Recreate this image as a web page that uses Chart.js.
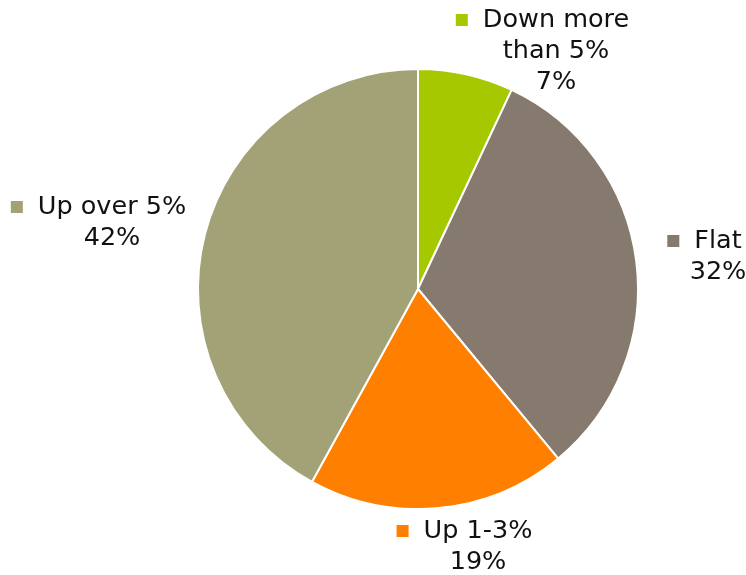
<!DOCTYPE html>
<html>
<head>
<meta charset="utf-8">
<script src="https://cdn.jsdelivr.net/npm/chart.js@4/dist/chart.umd.min.js"></script>
<style>
	html, body { margin: 0; padding: 0; background: #fff; }
	#wrap { width: 746px; height: 575px; }
</style>
</head>
<body>
<div id="wrap"><canvas id="chartPie" width="746" height="575"></canvas></div>
<script>
const categories = ['Down more than 5%', 'Flat', 'Up 1-3%', 'Up over 5%'];
const shares = [7, 32, 19, 42];
const labelLines = [['Down more', 'than 5%'], ['Flat'], ['Up 1-3%'], ['Up over 5%']];

const sliceColors = ['#a5c800', '#857a6d', '#ff7f00', '#a2a276'];
// text block centre (x) and first line middle (y), relative to pie centre
const labelSpots = [
	{ dx: 138, dy: -269 },
	{ dx: 300, dy: -48 },
	{ dx: 60, dy: 242 },
	{ dx: -306, dy: -82 },
];
const FONT = '25.5px "DejaVu Sans"';
const LINE_H = 31;

const outerLabels = {
	id: 'outerLabels',
	afterDatasetsDraw(chart) {
		const { ctx } = chart;
		const meta = chart.getDatasetMeta(0);
		const arc0 = meta.data[0];
		const cx = arc0.x;
		const cy = arc0.y;
		const data = chart.data.datasets[0].data;
		const total = data.reduce((a, b) => a + b, 0);
		ctx.save();
		ctx.font = FONT;
		ctx.fillStyle = '#111';
		ctx.textAlign = 'center';
		ctx.textBaseline = 'middle';
		data.forEach((v, i) => {
			const spot = labelSpots[i];
			const x = cx + spot.dx;
			let y = cy + spot.dy;
			const lines = labelLines[i].concat([Math.round(v / total * 100) + '%']);
			const w0 = ctx.measureText(lines[0]).width;
			// legend square before the first line
			ctx.fillStyle = sliceColors[i];
			ctx.fillRect(x - w0 / 2 - 27, y - 6, 12, 12);
			ctx.fillStyle = '#111';
			lines.forEach((t) => {
				ctx.fillText(t, x, y);
				y += LINE_H;
			});
		});
		ctx.restore();
	},
};

new Chart(document.getElementById('chartPie'), {
	type: 'pie',
	data: {
		labels: categories,
		datasets: [{
			data: shares,
			backgroundColor: sliceColors,
			borderColor: '#fff',
			borderWidth: 2,
		}],
	},
	options: {
		responsive: false,
		animation: false,
		layout: { padding: { left: 197, right: 107, top: 68, bottom: 65 } },
		plugins: {
			legend: { display: false },
			tooltip: { enabled: false },
		},
	},
	plugins: [outerLabels],
});
</script>
</body>
</html>
